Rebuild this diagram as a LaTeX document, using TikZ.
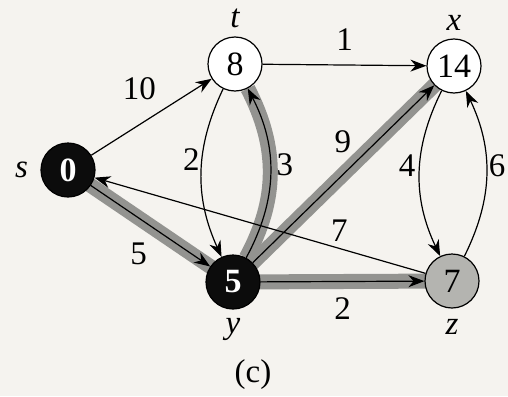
\documentclass[tikz,border=0pt]{standalone}
\usepackage{fontspec}
\setmainfont{Liberation Serif}
\usetikzlibrary{arrows.meta, positioning, backgrounds}
\definecolor{djpaper}{HTML}{F5F3EF}
\definecolor{djband}{HTML}{939390}
\definecolor{djdone}{HTML}{0C0C0C}
\definecolor{djqueue}{HTML}{B4B4B0}
\tikzset{
  vtx/.style={
    circle, draw=black, line width=.6pt, fill=white, minimum size=27pt,
    inner sep=0pt, font=\fontsize{17}{19}\selectfont},
  vdone/.style={vtx, fill=djdone, text=white,
    font=\fontsize{17}{19}\selectfont\bfseries},
  vqueue/.style={vtx, fill=djqueue},
  vname/.style={font=\fontsize{16.5}{19}\selectfont\itshape, inner sep=1pt},
  wt/.style={font=\fontsize{16.5}{19}\selectfont, inner sep=1pt},
  arc/.style={-{Stealth[length=8pt, width=6pt]}, line width=.6pt},
  treeband/.style={draw=djband, line width=7.5pt},
}

\begin{document}
\begin{tikzpicture}[x=0.5pt, y=0.5pt]
  \useasboundingbox (0,0) rectangle (508,-396);
  % vertices
  \node[vdone]  (s) at (68,-170)  {0};
  \node[vtx]    (t) at (235,-64)  {8};
  \node[vtx]    (x) at (454,-66)  {14};
  \node[vdone]  (y) at (233,-282) {5};
  \node[vqueue] (z) at (452,-281) {7};
  % vertex names
  \node[vname, left=5pt of s]   (sname) {s};
  \node[vname, above=3pt of t]  (tname) {t};
  \node[vname, above=3pt of x]  (xname) {x};
  \node[vname, below=3pt of y]  (yname) {y};
  \node[vname, below=4pt of z]  (zname) {z};
  \node[wt] (caption) at (253,-375) {(c)};

  % edges
  \draw[arc] (s) -- node[wt, pos=.45, above=9pt, xshift=-3pt] (w10) {10} (t);
  \draw[arc] (t) -- node[wt, above=6pt] (w1) {1} (x);
  \draw[arc] (t) to[bend right=25] node[wt, pos=.42, left=0pt] (w2a) {2} (y);
  \draw[arc] (y) to[bend right=28] node[wt, pos=.55, right=2pt] (w3) {3} (t);
  \draw[arc] (s) -- node[wt, pos=.45, below=9pt, xshift=-3pt] (w5) {5} (y);
  \draw[arc] (y) -- node[wt, pos=.58, above left=3pt] (w9) {9} (x);
  \draw[arc] (y) -- node[wt, below=7pt] (w2b) {2} (z);
  \draw[arc] (z) -- node[wt, pos=.26, above=2pt] (w7) {7} (s);
  \draw[arc] (x) to[bend right=26] node[wt, pos=.45, left=1pt] (w4) {4} (z);
  \draw[arc] (z) to[bend right=26] node[wt, pos=.55, right=0pt] (w6) {6} (x);

  \begin{scope}[on background layer]
    \fill[djpaper] (0,0) rectangle (508,-396);
    % shortest-path tree
    \draw[treeband] (s.center) -- (y.center);
    \draw[treeband] (y.center) -- (x.center);
    \draw[treeband] (y.center) -- (z.center);
    \draw[treeband] (y) to[bend right=28] (t);
  \end{scope}
\end{tikzpicture}
\end{document}
